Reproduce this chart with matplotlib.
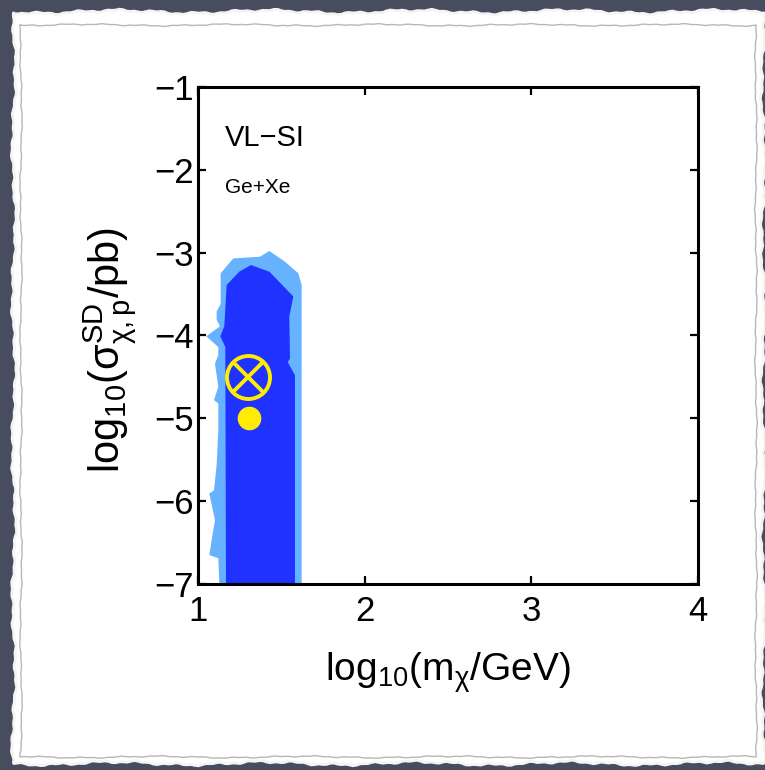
import numpy as np
import matplotlib
matplotlib.use("Agg")
from matplotlib import pyplot as plt
from matplotlib.patches import Polygon

plt.rcParams['font.family'] = ['Liberation Sans', 'DejaVu Sans']
plt.rcParams['mathtext.fontset'] = 'custom'
plt.rcParams['mathtext.rm'] = 'Liberation Sans'
plt.rcParams['mathtext.it'] = 'Liberation Sans:italic'

# 95% (light) and 68% (dark) credible regions in the (log m, log sigma) plane
outer_x = [1.128, 1.122, 1.068, 1.082, 1.102, 1.068, 1.096, 1.112, 1.122, 1.122,
           1.096, 1.122, 1.102, 1.122, 1.122, 1.050, 1.132, 1.112, 1.112, 1.136,
           1.136, 1.212, 1.372, 1.428, 1.522, 1.602, 1.622, 1.622]
outer_y = [-7.00, -6.69, -6.65, -6.47, -6.23, -5.91, -5.87, -5.56, -5.14, -4.82,
           -4.78, -4.62, -4.34, -4.24, -4.14, -4.01, -3.89, -3.81, -3.71, -3.62,
           -3.25, -3.07, -3.05, -2.98, -3.11, -3.25, -3.39, -7.00]
inner_x = [1.168, 1.164, 1.134, 1.158, 1.172, 1.248, 1.318, 1.428, 1.572, 1.548,
           1.552, 1.538, 1.582, 1.582]
inner_y = [-7.00, -4.14, -4.01, -3.89, -3.39, -3.23, -3.15, -3.23, -3.53, -3.77,
           -4.28, -4.32, -4.48, -7.00]

# benchmark point and best fit
bench_x, bench_y = 1.30, -4.50
best_x, best_y = 1.305, -5.00

fig = plt.figure(figsize=(7.65, 7.70), dpi=100, facecolor='#474c5e')

# paper sheet with rough edges, drawn in pixel coordinates
bg = fig.add_axes([0, 0, 1, 1], zorder=-1)
bg.set_xlim(0, 765)
bg.set_ylim(770, 0)
bg.axis('off')


def wobble(n, amp, phase):
    t = np.linspace(0, 1, n)
    return amp * (0.5 * np.sin(2 * np.pi * 5 * t + phase)
                  + 0.3 * np.sin(2 * np.pi * 19 * t + 2 * phase)
                  + 0.2 * np.sin(2 * np.pi * 53 * t + 3 * phase))


def rough_rect(x0, y0, x1, y1, amp, phase):
    n = 200
    xs = np.linspace(x0, x1, n)
    ys = np.linspace(y0, y1, n)
    top = np.column_stack([xs, y0 + wobble(n, amp, phase)])
    right = np.column_stack([x1 + wobble(n, amp, phase + 1.1), ys])
    bottom = np.column_stack([xs[::-1], y1 + wobble(n, amp, phase + 2.3)])
    left = np.column_stack([x0 + wobble(n, amp, phase + 3.7), ys[::-1]])
    return np.vstack([top, right, bottom, left])


bg.add_patch(Polygon(rough_rect(14, 12, 763, 763, 3.0, 0.4), closed=True,
                     facecolor='white', edgecolor='#f4f4f4', lw=2))
frame = rough_rect(21, 25, 756, 757, 1.5, 1.9)
bg.plot(np.append(frame[:, 0], frame[0, 0]), np.append(frame[:, 1], frame[0, 1]),
        color='#b8b8b8', lw=1.0)

ax = fig.add_axes([0.2588, 0.2416, 0.6536, 0.6455])
ax.fill(outer_x, outer_y, color='#66b2ff', lw=0)
ax.fill(inner_x, inner_y, color='#1f32ff', lw=0)

ax.plot(bench_x, bench_y, 'o', ms=31, mfc='none', mec='#ffec00', mew=2.8)
ax.plot(bench_x, bench_y, 'x', ms=21, mec='#ffec00', mew=2.8)
ax.plot(best_x, best_y, 'o', ms=16, mfc='#ffec00', mec='#ffec00')

ax.text(1.16, -1.62, 'VL\u2212SI', fontsize=21, va='center', ha='left')
ax.text(1.16, -2.22, 'Ge+Xe', fontsize=15, va='center', ha='left')

ax.set_xlim(1, 4)
ax.set_ylim(-7, -1)
ax.set_xticks([1, 2, 3, 4])
ax.set_yticks([-7, -6, -5, -4, -3, -2, -1])
ax.set_yticklabels(['\u22127', '\u22126', '\u22125', '\u22124', '\u22123', '\u22122', '\u22121'])
ax.tick_params(direction='in', length=6, width=1.6, labelsize=25,
               top=True, right=True)
ax.tick_params(axis='x', pad=8)
ax.tick_params(axis='y', pad=3)
for s in ax.spines.values():
    s.set_linewidth(2.2)

ax.set_xlabel(r'$\mathregular{log_{10}(m_{\chi}/GeV)}$', fontsize=28, labelpad=16)
ax.set_ylabel(r'$\mathregular{log_{10}(\sigma^{SD}_{\chi,p}/pb)}$', fontsize=30)
ax.yaxis.set_label_coords(-0.118, 0.47)

fig.savefig('out.png', dpi=100, facecolor=fig.get_facecolor())
